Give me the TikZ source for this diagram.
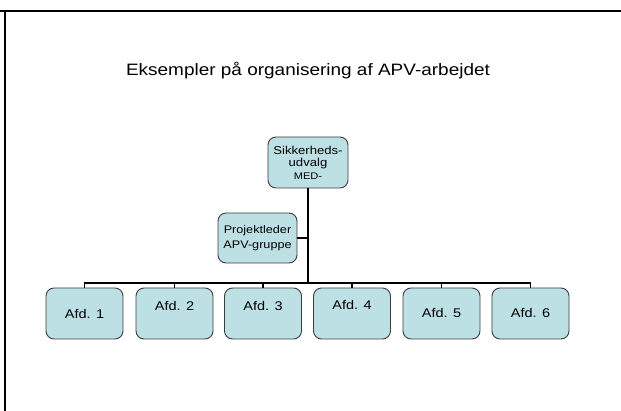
\documentclass[tikz,border=0pt]{standalone}
\usepackage{fontspec}
\setmainfont{Liberation Sans}[FakeStretch=1.15]
\usepackage{tikz}
\definecolor{boxfill}{RGB}{189,224,228}
\definecolor{boxline}{RGB}{60,60,60}
\tikzset{
  unit/.style={draw=boxline, fill=boxfill, line width=0.9pt, rounded corners=8pt,
    minimum width=77pt, minimum height=51pt, inner sep=0pt, align=center,
    font=\fontsize{12.6}{14}\selectfont},
  raised/.style={text depth=16pt},
  bus/.style={line width=1.2pt}
}

\begin{document}
\begin{tikzpicture}[x=1pt,y=-1pt]
    \useasboundingbox (0,0) rectangle (621,411);
    % frame
    \draw[line width=2pt] (0,11) -- (621,11);
    \draw[line width=2pt] (5,11) -- (5,411);
    \node (title) at (308,71) {\fontsize{16.5}{18}\selectfont Eksempler på organisering af APV-arbejdet};
    % top of the tree
    \node[unit, minimum width=80pt, font=\fontsize{11.4}{12.5}\selectfont]
      (udvalg) at (308,162.5) {Sikkerheds-\\udvalg\\{\fontsize{9.6}{10}\selectfont MED-}};
    \node[unit, minimum width=79pt, minimum height=50pt, font=\fontsize{11}{15}\selectfont]
      (leder) at (257.5,238) {Projektleder\\APV-gruppe};
    \coordinate (hub) at (308,283);
    \coordinate (knee) at (308,238);
    \draw[line width=2pt] (udvalg.south) -- (hub);
    \draw[bus] (leder.east) -- (knee);
    % departments
    \node[unit] (afd1) at (84.5,313.5) {Afd. 1};
    \node[unit, raised] (afd2) at (174.5,313.5) {Afd. 2};
    \node[unit, raised] (afd3) at (263,313.5) {Afd. 3};
    \node[unit, text depth=18pt] (afd4) at (352,313.5) {Afd. 4};
    \node[unit, text depth=2pt] (afd5) at (441.5,313.5) {Afd. 5};
    \node[unit, text depth=2pt] (afd6) at (530.5,313.5) {Afd. 6};
    \draw[bus] (afd1.north) |- (hub) -| (afd6.north);
    \draw[bus] (afd2.north) -- (afd2.north |- hub);
    \draw[bus] (afd3.north) -- (afd3.north |- hub);
    \draw[bus] (afd4.north) -- (afd4.north |- hub);
    \draw[bus] (afd5.north) -- (afd5.north |- hub);
\end{tikzpicture}
\end{document}
